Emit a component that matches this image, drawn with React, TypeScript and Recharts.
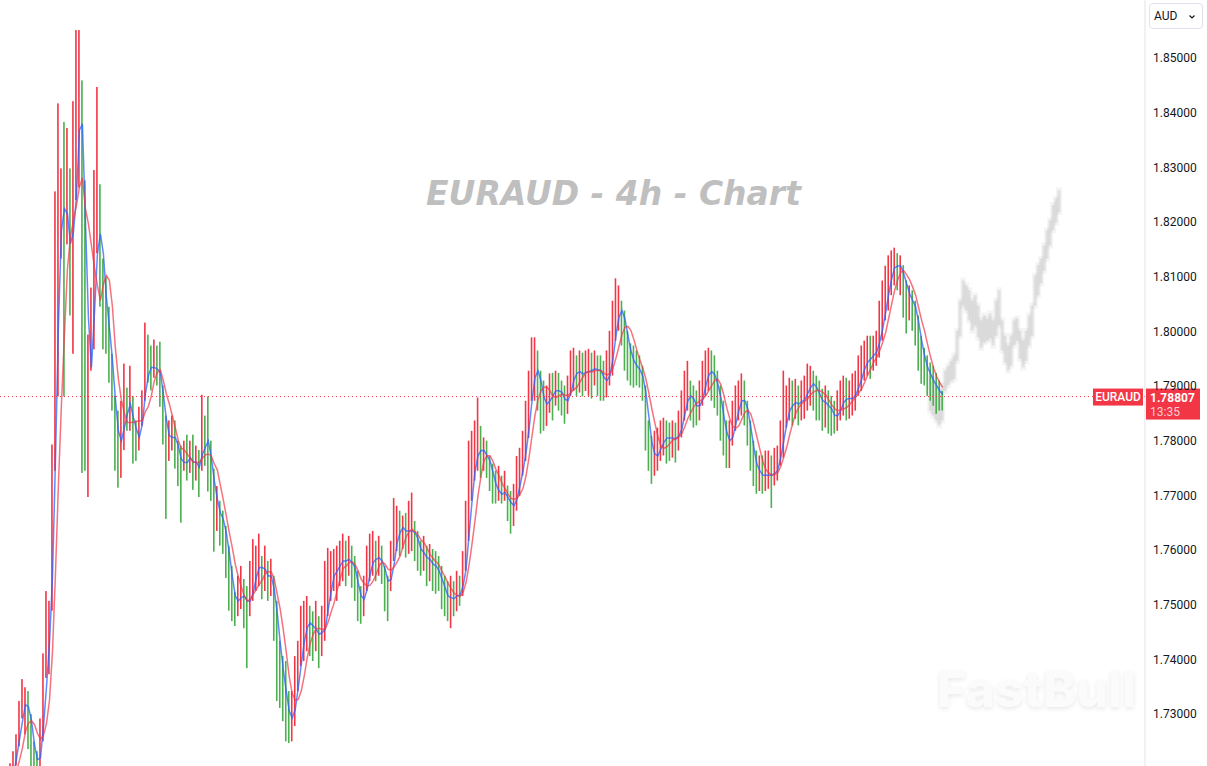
import { ComposedChart, Bar, Line, XAxis, YAxis, ReferenceLine } from 'recharts'

// EURAUD 4h — prices stored as price × 10000, one entry per candle slot
const closePips = [
  17168, 17181, 17162, 17192, 17214, 17250, 17296, 17314, 17342, 17283,
  17241, 17210, 17199, 17250, 17382, 17415, 17489, 17745, 18056, 18240,
  18258, 18175, 18212, 18093, 18240, 18404, 18459, 18276, 17873, 17928,
  18001, 18166, 18258, 18111, 18056, 18020, 17946, 17882, 17800, 17772,
  17827, 17873, 17846, 17882, 17800, 17782, 17837, 17873, 17946, 17937,
  17919, 17946, 17928, 17901, 17827, 17791, 17809, 17818, 17791, 17763,
  17745, 17772, 17763, 17772, 17749, 17760, 17745, 17818, 17800, 17782,
  17727, 17672, 17681, 17653, 17635, 17608, 17543, 17507, 17498, 17516,
  17525, 17507, 17488, 17525, 17553, 17571, 17580, 17553, 17562, 17543,
  17553, 17488, 17415, 17388, 17342, 17296, 17278, 17305, 17342, 17397,
  17434, 17461, 17479, 17461, 17443, 17461, 17434, 17452, 17479, 17543,
  17553, 17562, 17571, 17580, 17589, 17571, 17589, 17571, 17543, 17507,
  17498, 17525, 17562, 17580, 17589, 17580, 17589, 17571, 17534, 17525,
  17580, 17617, 17644, 17635, 17644, 17626, 17635, 17644, 17617, 17598,
  17589, 17598, 17571, 17580, 17571, 17562, 17553, 17525, 17516, 17507,
  17516, 17510, 17525, 17516, 17562, 17617, 17708, 17745, 17782, 17791,
  17773, 17782, 17763, 17745, 17718, 17699, 17708, 17699, 17708, 17681,
  17672, 17690, 17718, 17745, 17772, 17818, 17873, 17928, 17946, 17910,
  17873, 17855, 17873, 17891, 17882, 17901, 17891, 17873, 17864, 17882,
  17919, 17932, 17919, 17928, 17919, 17928, 17932, 17925, 17937, 17928,
  17919, 17901, 17910, 17946, 17992, 18038, 18047, 18029, 17992, 17956,
  17946, 17937, 17928, 17925, 17901, 17837, 17791, 17763, 17772, 17782,
  17800, 17809, 17806, 17800, 17809, 17800, 17818, 17846, 17882, 17891,
  17873, 17864, 17855, 17873, 17901, 17928, 17932, 17919, 17910, 17882,
  17846, 17809, 17791, 17800, 17827, 17864, 17873, 17882, 17864, 17827,
  17782, 17754, 17736, 17745, 17730, 17736, 17745, 17730, 17745, 17763,
  17800, 17837, 17855, 17873, 17864, 17873, 17864, 17877, 17882, 17901,
  17910, 17901, 17882, 17873, 17864, 17873, 17855, 17846, 17837, 17855,
  17873, 17882, 17873, 17877, 17882, 17891, 17919, 17928, 17946, 17956,
  17946, 17965, 17974, 18001, 18038, 18066, 18102, 18121, 18126, 18111,
  18121, 18084, 18056, 18066, 18047, 18020, 17983, 17946, 17937, 17919,
  17910, 17901, 17891, 17882, 17881,
]

const highPips = [
  17186, 17199, 17192, 17210, 17232, 17263, 17324, 17364, 17349, 17327,
  17300, 17250, 17232, 17292, 17411, 17525, 17507, 17793, 18256, 18417,
  18298, 18383, 18372, 18298, 18421, 18551, 18551, 18434, 17950, 17994,
  18080, 18295, 18447, 18269, 18133, 18099, 18045, 17959, 17881, 17855,
  17873, 17941, 17897, 17937, 17864, 17837, 17862, 17892, 18016, 17994,
  17974, 17985, 17974, 17981, 17855, 17846, 17837, 17846, 17837, 17800,
  17791, 17800, 17811, 17800, 17811, 17791, 17783, 17884, 17846, 17881,
  17800, 17749, 17717, 17690, 17672, 17644, 17593, 17571, 17523, 17553,
  17571, 17547, 17534, 17580, 17620, 17608, 17630, 17589, 17608, 17580,
  17584, 17525, 17507, 17434, 17406, 17397, 17342, 17342, 17406, 17434,
  17498, 17507, 17516, 17498, 17488, 17507, 17479, 17498, 17580, 17604,
  17598, 17602, 17608, 17617, 17630, 17617, 17626, 17608, 17589, 17562,
  17534, 17553, 17608, 17630, 17635, 17617, 17626, 17608, 17562, 17553,
  17617, 17695, 17681, 17672, 17663, 17668, 17690, 17705, 17653, 17635,
  17617, 17626, 17608, 17611, 17602, 17598, 17589, 17571, 17553, 17543,
  17553, 17543, 17562, 17553, 17598, 17690, 17800, 17818, 17837, 17879,
  17827, 17806, 17800, 17772, 17758, 17745, 17754, 17736, 17745, 17718,
  17708, 17721, 17772, 17787, 17818, 17873, 17928, 17989, 17989, 17965,
  17928, 17910, 17901, 17923, 17924, 17928, 17924, 17910, 17901, 17919,
  17965, 17970, 17956, 17965, 17961, 17965, 17968, 17961, 17965, 17956,
  17956, 17946, 17965, 18001, 18056, 18097, 18084, 18056, 18038, 18001,
  17978, 17974, 17965, 17956, 17937, 17879, 17837, 17809, 17818, 17824,
  17837, 17842, 17837, 17833, 17837, 17833, 17855, 17892, 17928, 17946,
  17910, 17901, 17892, 17910, 17946, 17965, 17970, 17965, 17956, 17928,
  17901, 17873, 17837, 17837, 17873, 17901, 17910, 17923, 17910, 17873,
  17837, 17800, 17782, 17773, 17773, 17782, 17782, 17773, 17787, 17791,
  17837, 17928, 17901, 17915, 17910, 17913, 17901, 17910, 17919, 17941,
  17937, 17928, 17919, 17910, 17895, 17901, 17892, 17882, 17873, 17892,
  17910, 17919, 17915, 17910, 17923, 17928, 17956, 17974, 17983, 17992,
  17992, 17992, 18001, 18056, 18093, 18120, 18139, 18148, 18153, 18143,
  18139, 18121, 18093, 18084, 18075, 18056, 18029, 17992, 17970, 17956,
  17943, 17937, 17924, 17910, 17891,
]

const lowPips = [
  17150, 17159, 17144, 17166, 17192, 17206, 17241, 17292, 17263, 17236,
  17203, 17177, 17168, 17186, 17324, 17366, 17373, 17489, 17881, 17881,
  18133, 17881, 18159, 18029, 17959, 18247, 18263, 17741, 17745, 17697,
  17941, 17967, 18143, 18045, 17967, 17959, 17906, 17855, 17745, 17714,
  17732, 17783, 17818, 17818, 17758, 17763, 17800, 17827, 17881, 17906,
  17892, 17915, 17901, 17862, 17793, 17657, 17763, 17782, 17749, 17717,
  17650, 17745, 17727, 17741, 17710, 17727, 17697, 17783, 17754, 17707,
  17690, 17597, 17635, 17608, 17593, 17549, 17489, 17470, 17461, 17479,
  17492, 17457, 17384, 17479, 17507, 17525, 17534, 17510, 17525, 17507,
  17516, 17434, 17324, 17311, 17287, 17250, 17247, 17250, 17278, 17342,
  17388, 17397, 17415, 17406, 17397, 17415, 17384, 17406, 17434, 17498,
  17507, 17525, 17507, 17534, 17543, 17534, 17553, 17531, 17507, 17470,
  17465, 17479, 17525, 17543, 17553, 17543, 17553, 17538, 17488, 17470,
  17525, 17580, 17598, 17589, 17602, 17586, 17593, 17598, 17580, 17562,
  17553, 17562, 17534, 17543, 17525, 17520, 17525, 17492, 17479, 17470,
  17457, 17479, 17488, 17498, 17525, 17580, 17648, 17690, 17727, 17745,
  17732, 17745, 17732, 17708, 17685, 17685, 17690, 17685, 17690, 17653,
  17630, 17644, 17672, 17699, 17736, 17763, 17805, 17873, 17873, 17855,
  17813, 17818, 17827, 17851, 17837, 17864, 17855, 17846, 17831, 17849,
  17882, 17891, 17882, 17888, 17881, 17891, 17882, 17877, 17901, 17882,
  17873, 17873, 17879, 17901, 17919, 17983, 18001, 17974, 17928, 17910,
  17901, 17897, 17901, 17897, 17873, 17782, 17745, 17721, 17736, 17745,
  17763, 17773, 17758, 17763, 17769, 17760, 17782, 17806, 17837, 17855,
  17837, 17824, 17828, 17837, 17864, 17882, 17891, 17873, 17860, 17846,
  17800, 17773, 17750, 17750, 17791, 17818, 17837, 17846, 17828, 17791,
  17745, 17717, 17703, 17708, 17703, 17708, 17712, 17677, 17718, 17727,
  17754, 17769, 17824, 17837, 17828, 17840, 17828, 17837, 17840, 17855,
  17864, 17855, 17837, 17837, 17818, 17824, 17813, 17809, 17813, 17818,
  17837, 17846, 17837, 17840, 17846, 17855, 17882, 17891, 17910, 17919,
  17913, 17928, 17937, 17952, 17983, 18020, 18038, 18066, 18084, 18075,
  18066, 18025, 17996, 18020, 18001, 17974, 17928, 17904, 17901, 17882,
  17873, 17864, 17849, 17855, 17855,
]

// grey projection candles, starting at slot GHOST_START
const ghostHighPips = [
  17919, 17913, 17901, 17888, 17901, 17928, 17937, 17946, 17956, 18001,
  18056, 18093, 18084, 18075, 18056, 18066, 18047, 18020, 18029, 18023,
  18033, 18020, 18056, 18075, 18020, 17992, 17974, 17992, 18020, 18023,
  18001, 17983, 18001, 18029, 18047, 18102, 18121, 18133, 18157, 18185,
  18203, 18231, 18243, 18258,
]
const ghostLowPips = [
  17855, 17846, 17837, 17828, 17837, 17891, 17901, 17910, 17913, 17946,
  17992, 18047, 18038, 18020, 18001, 18011, 17989, 17970, 17980, 17983,
  17987, 17974, 17992, 18011, 17965, 17943, 17928, 17937, 17974, 17983,
  17950, 17934, 17946, 17974, 17992, 18047, 18066, 18088, 18111, 18133,
  18157, 18185, 18199, 18218,
]

const yTicks = [1.73, 1.74, 1.75, 1.76, 1.77, 1.78, 1.79, 1.8, 1.81, 1.82, 1.83, 1.84, 1.85]

const SLOT_COUNT = 382
const GHOST_START = 310
const LAST_PRICE = 1.78807
const FAST_MA = 3
const SLOW_MA = 6

const UP = '#f23645'
const DOWN = '#4caf50'

function sma(i: number, n: number) {
  if (i < n - 1 || i >= closePips.length) return undefined
  let s = 0
  for (let k = i - n + 1; k <= i; k++) s += closePips[k]
  return s / n / 1e4
}

type Row = {
  i: number
  range?: [number, number]
  open?: number
  close?: number
  ghost?: [number, number]
  maFast?: number
  maSlow?: number
}

const rows: Row[] = Array.from({ length: SLOT_COUNT }, (_, i) => {
  const row: Row = { i }
  if (i < closePips.length) {
    const close = closePips[i] / 1e4
    const open = (i > 0 ? closePips[i - 1] : closePips[i]) / 1e4
    const hi = Math.max(highPips[i] / 1e4, open, close)
    const lo = Math.min(lowPips[i] / 1e4, open, close)
    row.range = [lo, hi]
    row.open = open
    row.close = close
  }
  const g = i - GHOST_START
  if (g >= 0 && g < ghostHighPips.length) {
    row.ghost = [ghostLowPips[g] / 1e4, ghostHighPips[g] / 1e4]
  }
  row.maFast = sma(i, FAST_MA)
  row.maSlow = sma(i, SLOW_MA)
  return row
})

// thin range bar: the whole high-low span, coloured by close vs open
function Candle(props: any) {
  const { x, y, width, height, payload } = props
  if (!payload || !payload.range) return <g />
  const cx = x + width / 2
  const color = payload.close >= payload.open ? UP : DOWN
  return <rect x={cx - 0.8} y={y} width={1.6} height={Math.max(height, 1)} fill={color} />
}

function GhostCandle(props: any) {
  const { x, y, width, height, payload } = props
  if (!payload || !payload.ghost) return <g />
  const cx = x + width / 2
  return (
    <g>
      <rect x={cx - 3} y={y - 3} width={6} height={height + 6} fill="#9e9e9e" opacity={0.1} />
      <rect x={cx - 1.5} y={y} width={3} height={Math.max(height, 1)} fill="#9e9e9e" opacity={0.22} />
    </g>
  )
}

function PriceTag(props: any) {
  const vb = props.viewBox
  if (!vb) return null
  const y = vb.y
  const right = vb.x + vb.width
  return (
    <g>
      <rect x={right - 52} y={y - 8} width={50} height={17} fill={UP} />
      <text x={right - 27} y={y + 4.5} textAnchor="middle" fill="#fff" fontSize={12} fontWeight={500}>
        EURAUD
      </text>
      <rect x={right + 1} y={y - 8} width={54} height={31} fill={UP} />
      <text x={right + 5} y={y + 5.5} fill="#fff" fontSize={12} fontWeight={700}>
        {LAST_PRICE.toFixed(5)}
      </text>
      <text x={right + 5} y={y + 19} fill="rgba(255,255,255,0.75)" fontSize={12}>
        13:35
      </text>
    </g>
  )
}

export default function App() {
  return (
    <div
      style={{
        position: 'relative',
        width: 1207,
        height: 766,
        background: '#fff',
        overflow: 'hidden',
        fontFamily: 'Roboto, sans-serif',
      }}
    >
      <style>{'body{margin:0}'}</style>
      <ComposedChart width={1207} height={766} data={rows} margin={{ top: 0, right: 0, bottom: 0, left: 0 }}>
        <XAxis dataKey="i" type="category" hide />
        <XAxis xAxisId="ghost" dataKey="i" type="category" hide />
        <YAxis
          orientation="right"
          width={62}
          domain={[1.7205, 1.8606]}
          allowDataOverflow
          ticks={yTicks}
          interval={0}
          tickFormatter={(v: number) => v.toFixed(5)}
          tick={{ fontSize: 12, fill: '#131722' }}
          tickLine={false}
          axisLine={{ stroke: '#e0e3eb' }}
        />
        <Bar xAxisId="ghost" dataKey="ghost" barSize={2} shape={GhostCandle} isAnimationActive={false} />
        <Bar dataKey="range" barSize={2} shape={Candle} isAnimationActive={false} />
        <Line
          dataKey="maFast"
          stroke="#2962ff"
          strokeOpacity={0.75}
          strokeWidth={1.5}
          dot={false}
          activeDot={false}
          isAnimationActive={false}
        />
        <Line
          dataKey="maSlow"
          stroke={UP}
          strokeOpacity={0.7}
          strokeWidth={1.5}
          dot={false}
          activeDot={false}
          isAnimationActive={false}
        />
        <ReferenceLine y={LAST_PRICE} stroke={UP} strokeDasharray="1 3" label={<PriceTag />} />
      </ComposedChart>

      <div
        style={{
          position: 'absolute',
          left: 0,
          top: 177,
          width: 1227,
          textAlign: 'center',
          fontFamily: '"DejaVu Sans", sans-serif',
          fontStyle: 'italic',
          fontWeight: 700,
          fontSize: 33,
          lineHeight: 1,
          color: '#bfbfbf',
          pointerEvents: 'none',
        }}
      >
        EURAUD - 4h - Chart
      </div>

      <div
        style={{
          position: 'absolute',
          left: 937,
          top: 664,
          fontFamily: 'Inter, sans-serif',
          fontWeight: 800,
          fontSize: 50,
          lineHeight: 1,
          color: '#fbfbfb',
          textShadow: '0 2px 5px rgba(0,0,0,0.09)',
          pointerEvents: 'none',
        }}
      >
        FastBull
      </div>

      <div
        style={{
          position: 'absolute',
          left: 1149,
          top: 3,
          width: 54,
          height: 26,
          boxSizing: 'border-box',
          border: '1px solid #e0e3eb',
          borderRadius: 4,
          background: '#fff',
          fontSize: 12,
          color: '#131722',
          lineHeight: '24px',
          paddingLeft: 4,
        }}
      >
        AUD
        <svg width="8" height="6" viewBox="0 0 8 6" style={{ position: 'absolute', right: 6, top: 10 }}>
          <polyline points="1.5,1.5 4,4 6.5,1.5" fill="none" stroke="#131722" strokeWidth="1.2" />
        </svg>
      </div>
    </div>
  )
}
